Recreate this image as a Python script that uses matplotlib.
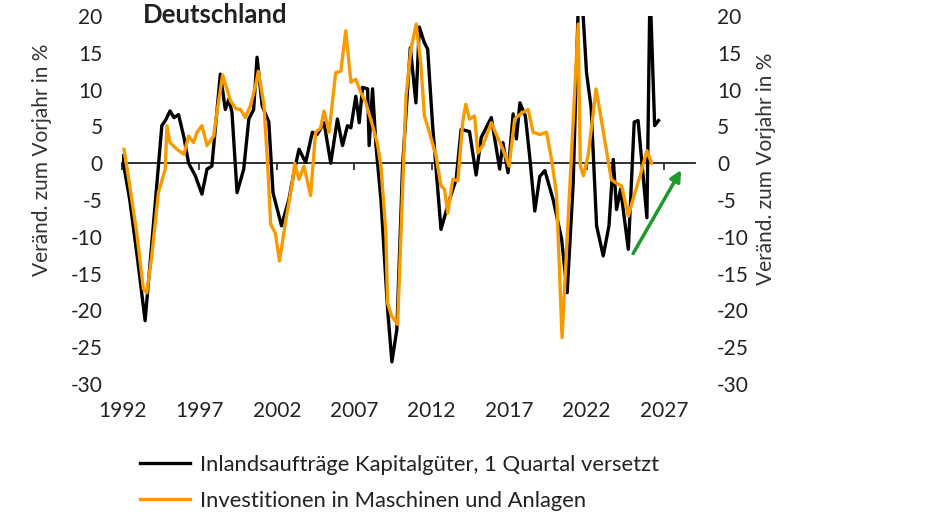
import numpy as np
import matplotlib
matplotlib.use("Agg")
import matplotlib.pyplot as plt

plt.rcParams['font.family'] = ['Lato', 'DejaVu Sans']
plt.rcParams['axes.unicode_minus'] = False

# Inlandsauftraege Kapitalgueter (1 Quartal versetzt), yoy in %
orders_t = [1992.0, 1992.5, 1993.0, 1993.49, 1994.0, 1994.57, 1994.8, 1995.1, 1995.35, 1995.65,
            1996.0, 1996.3, 1996.73, 1997.16, 1997.49, 1997.8, 1998.35, 1998.67, 1998.9, 1999.1,
            1999.43, 1999.86, 2000.19, 2000.5, 2000.72, 2001.05, 2001.48, 2001.75, 2002.3, 2002.78,
            2003.1, 2003.43, 2003.86, 2004.29, 2004.6, 2005.05, 2005.48, 2005.91, 2006.24, 2006.56,
            2006.78, 2007.1, 2007.32, 2007.53, 2007.86, 2007.96, 2008.18, 2008.4, 2008.72, 2009.15,
            2009.43, 2009.75, 2010.12, 2010.62, 2010.98, 2011.2, 2011.52, 2011.74, 2012.06, 2012.6,
            2013.14, 2013.58, 2013.9, 2014.44, 2014.87, 2015.2, 2015.85, 2016.39, 2016.6, 2016.93,
            2017.26, 2017.47, 2017.7, 2018.05, 2018.34, 2018.66, 2018.98, 2019.31, 2019.85, 2020.39,
            2020.75, 2021.14, 2021.5, 2021.7, 2022.0, 2022.3, 2022.65, 2023.08, 2023.45, 2023.73,
            2023.94, 2024.2, 2024.7, 2025.08, 2025.33, 2025.9, 2026.1, 2026.4, 2026.65]
orders = [1.0, -5.0, -13.0, -21.4, -9.0, 5.1, 5.8, 7.1, 6.2, 6.6,
          3.5, 0.0, -1.7, -4.2, -0.8, -0.4, 12.1, 7.3, 8.7, 6.9,
          -4.0, -0.8, 6.0, 7.3, 14.4, 7.8, 5.6, -4.0, -8.5, -4.9,
          -1.3, 1.9, 0.1, 4.2, 3.9, 5.5, 0.0, 6.0, 2.4, 5.1,
          4.8, 9.1, 5.5, 10.3, 10.1, 2.4, 10.1, 2.4, -4.9, -19.8,
          -27.0, -22.6, -0.4, 15.7, 8.2, 18.5, 16.4, 15.5, 5.1, -9.0,
          -5.0, -2.2, 4.6, 4.3, -1.6, 3.5, 6.2, -0.8, 2.8, -1.3,
          6.7, 3.3, 8.2, 6.4, 0.7, -6.5, -1.8, -1.0, -5.0, -10.3,
          -17.6, -2.6, 24.0, 23.0, 12.3, 7.5, -8.5, -12.6, -8.5, 0.5,
          -6.3, -3.5, -11.7, 5.6, 5.8, -7.4, 24.0, 5.1, 5.8]

# Investitionen in Maschinen und Anlagen, yoy in %
invest_t = [1992.13, 1992.5, 1992.95, 1993.38, 1993.6, 1993.92, 1994.35, 1994.79, 1994.9, 1995.1,
            1995.54, 1996.0, 1996.3, 1996.62, 1996.84, 1997.16, 1997.49, 1997.92, 1998.13, 1998.5,
            1999.0, 1999.35, 1999.65, 1999.97, 2000.29, 2000.62, 2000.8, 2001.16, 2001.4, 2001.6,
            2001.9, 2002.17, 2002.56, 2003.0, 2003.15, 2003.43, 2003.75, 2004.18, 2004.5, 2004.83,
            2005.05, 2005.37, 2005.8, 2006.13, 2006.45, 2006.78, 2007.1, 2007.42, 2007.75, 2008.18,
            2008.5, 2008.72, 2009.04, 2009.15, 2009.4, 2009.8, 2010.02, 2010.34, 2010.66, 2011.0,
            2011.31, 2011.53, 2011.85, 2012.28, 2012.6, 2012.82, 2013.04, 2013.36, 2013.69, 2014.0,
            2014.2, 2014.44, 2014.77, 2014.98, 2015.3, 2015.85, 2016.3, 2016.6, 2017.0, 2017.36,
            2017.8, 2018.23, 2018.55, 2018.98, 2019.42, 2019.74, 2020.06, 2020.42, 2021.46, 2021.6,
            2021.8, 2022.1, 2022.62, 2023.6, 2023.84, 2024.27, 2024.7, 2025.0, 2025.46, 2025.9,
            2026.2]
invest = [1.9, -3.1, -9.5, -17.1, -17.6, -12.6, -4.0, -0.8, 5.1, 2.8,
          1.9, 1.2, 3.7, 2.8, 4.2, 5.1, 2.4, 3.7, 6.9, 12.0,
          8.5, 7.4, 7.3, 6.2, 7.8, 10.5, 12.5, 8.0, 0.0, -8.3,
          -9.5, -13.3, -8.0, -2.6, 0.0, -2.2, -0.4, -4.4, 4.2, 4.8,
          7.1, 4.2, 12.3, 12.5, 18.0, 11.0, 11.4, 9.6, 8.2, 5.1,
          2.6, -0.4, -9.4, -19.0, -20.7, -21.9, -9.4, 9.1, 15.5, 18.9,
          13.2, 6.4, 4.2, 1.0, -3.1, -3.5, -6.8, -2.2, -2.4, 5.5,
          8.0, 6.0, 6.4, 1.4, 2.4, 5.5, 3.3, 1.9, -0.4, 6.0,
          6.8, 7.3, 4.2, 3.9, 4.2, 0.5, -4.1, -23.7, 18.9, -0.4,
          -1.7, 1.0, 10.1, -2.2, -2.6, -3.1, -7.2, -4.9, -1.7, 1.7,
          0.0]

label_orders = "Inlandsaufträge Kapitalgüter, 1 Quartal versetzt"
label_invest = "Investitionen in Maschinen und Anlagen"
year_ticks = [1992, 1997, 2002, 2007, 2012, 2017, 2022, 2027]
y_ticks = [-30, -25, -20, -15, -10, -5, 0, 5, 10, 15, 20]
arrow_from = (2024.92, -12.6)
arrow_to = (2028.2, -0.6)

fs = 15
fig = plt.figure(figsize=(9.33, 5.25), dpi=100)
ax = fig.add_axes([0.1308, 0.2686, 0.614, 0.7009])

l1, = ax.plot(orders_t, orders, color='black', lw=2.4, zorder=3)
l2, = ax.plot(invest_t, invest, color='#F99B00', lw=2.4, zorder=4)

ax.set_xlim(1992, 2029)
ax.set_ylim(-30, 20)
ax.set_xticks(year_ticks)
ax.set_yticks(y_ticks)
for s in ax.spines.values():
    s.set_visible(False)

# zero line = bottom spine moved to y=0, with small tick marks
ax.spines['bottom'].set_visible(True)
ax.spines['bottom'].set_position(('data', 0))
ax.spines['bottom'].set_linewidth(1.3)
ax.spines['bottom'].set_color('#222222')
ax.spines['bottom'].set_zorder(2)
ax.tick_params(axis='x', direction='out', length=5, width=1.2, color='#222222',
               labelbottom=False)
ax.tick_params(axis='y', length=0, pad=14, labelsize=fs, colors='#222222')
ax.set_ylabel("Veränd. zum Vorjahr in %", fontsize=fs, color='#333333')
ax.yaxis.set_label_coords(-0.122, 0.61)

# year labels at the bottom of the plot area
bax = ax.secondary_xaxis('bottom')
bax.set_xticks(year_ticks)
bax.tick_params(axis='x', length=0, pad=12, labelsize=fs, colors='#222222')
for s in bax.spines.values():
    s.set_visible(False)

ax2 = ax.twinx()
ax2.set_ylim(-30, 20)
ax2.set_yticks(y_ticks)
for s in ax2.spines.values():
    s.set_visible(False)
ax2.tick_params(axis='y', length=0, pad=16, labelsize=fs, colors='#222222')
ax2.set_ylabel("Veränd. zum Vorjahr in %", fontsize=fs, color='#333333')
ax2.yaxis.set_label_coords(1.106, 0.585)

ax.annotate("", xy=arrow_to, xytext=arrow_from,
            arrowprops=dict(arrowstyle='-|>', color='#1E9A2A', lw=2.5, mutation_scale=16),
            zorder=5)

fig.text(143 / 933, 1 - 15 / 525, "Deutschland", fontsize=18.5, fontweight='bold',
         va='center', ha='left', color='#222222')

fig.legend([l1, l2], [label_orders, label_invest], loc='upper left',
           bbox_to_anchor=(140 / 933, 1 - 455 / 525), frameon=False, fontsize=15.8,
           handlelength=2.3, handletextpad=0.45, labelspacing=0.72, borderpad=0,
           borderaxespad=0, labelcolor='#222222')

fig.savefig("out.png", dpi=100)
